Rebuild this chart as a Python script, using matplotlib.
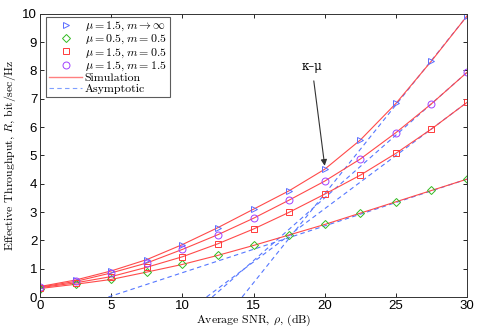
import matplotlib
matplotlib.use('Agg')
import matplotlib.pyplot as plt
import numpy as np

plt.rcParams['mathtext.fontset'] = 'cm'
plt.rcParams['font.family'] = ['Liberation Sans', 'DejaVu Sans']

# SNR points (dB)
snr = [0, 2.5, 5, 7.5, 10, 12.5, 15, 17.5, 20, 22.5, 25, 27.5, 30]

# Effective throughput
r_inf = [0.37, 0.6, 0.92, 1.32, 1.85, 2.45, 3.1, 3.75, 4.51, 5.54, 6.83, 8.33, 9.92]
r_05_05 = [0.3, 0.45, 0.62, 0.88, 1.15, 1.47, 1.82, 2.19, 2.56, 2.96, 3.36, 3.76, 4.16]
r_15_05 = [0.33, 0.5, 0.72, 1.05, 1.42, 1.88, 2.4, 2.99, 3.63, 4.3, 5.07, 5.93, 6.87]
r_15_15 = [0.35, 0.55, 0.85, 1.2, 1.68, 2.2, 2.78, 3.42, 4.09, 4.87, 5.8, 6.82, 7.93]

# Asymptotic lines: SNR where R=0, and R at 30 dB
asym_start = [14.2, 4.8, 11.7, 12.1]
asym_end = [9.92, 4.16, 6.87, 7.93]

series = [r_inf, r_05_05, r_15_05, r_15_15]
labels = [r'$\mu=1.5, m\rightarrow\infty$', r'$\mu=0.5, m=0.5$',
          r'$\mu=1.5, m=0.5$', r'$\mu=1.5, m=1.5$']
markers = ['>', 'D', 's', 'o']
msizes = [5, 4, 4.5, 5]
colors = ['#5a6cff', '#33bb22', '#ff3a3a', '#a040ff']

fig = plt.figure(figsize=(4.85, 3.32), dpi=100)
ax = fig.add_axes([0.0825, 0.1054, 0.8805, 0.8534])

red = '#ff4a4a'
blue = '#5577ff'

for x0, y1 in zip(asym_start, asym_end):
    ax.plot([x0, 30], [0, y1], '--', color=blue, lw=0.8, dashes=(4, 3))

for ys in series:
    ax.plot(snr, ys, '-', color=red, lw=0.8)

handles = []
for ys, lab, mk, ms, c in zip(series, labels, markers, msizes, colors):
    h, = ax.plot(snr, ys, linestyle='none', marker=mk, ms=ms, mfc='none',
                 mec=c, mew=0.7, label=lab)
    handles.append(h)

h_sim, = ax.plot([], [], '-', color='#ff8080', lw=1.0, label='Simulation')
h_asy, = ax.plot([], [], '--', color='#7f9fff', lw=0.8, dashes=(4, 3), label='Asymptotic')
handles += [h_sim, h_asy]

leg = ax.legend(handles=handles, loc='upper left', bbox_to_anchor=(0.014, 0.99),
                frameon=True, fancybox=False, edgecolor='#333333',
                handlelength=2.8, handletextpad=0.2, borderpad=0.25,
                labelspacing=0.0, borderaxespad=0.0,
                prop={'family': 'cmr10', 'size': 8.6})
leg.get_frame().set_linewidth(0.8)

ax.annotate('\u03ba\u2013\u03bc', xy=(20.0, 4.63), xytext=(19.1, 8.15),
            ha='center', va='center', fontsize=8.5, family='DejaVu Serif',
            arrowprops=dict(arrowstyle='-|>', color='#333333', lw=0.8,
                            mutation_scale=9, shrinkA=4, shrinkB=0))

ax.set_xlim(0, 30)
ax.set_ylim(0, 10)
ax.set_xticks([0, 5, 10, 15, 20, 25, 30])
ax.set_yticks(range(0, 11))
ax.tick_params(direction='in', top=True, right=True, labelsize=9.5, length=3,
               width=0.6, pad=2)
for s in ax.spines.values():
    s.set_linewidth(0.7)
    s.set_color('#333333')

ax.set_xlabel(r'Average SNR, $\rho$, (dB)', family='cmr10', fontsize=8.5, labelpad=1)
ax.set_ylabel(r'Effective Throughput, $R$, $\mathrm{bit/sec/Hz}$', family='cmr10',
              fontsize=8.5, labelpad=3)

plt.savefig('out.png', dpi=100)
